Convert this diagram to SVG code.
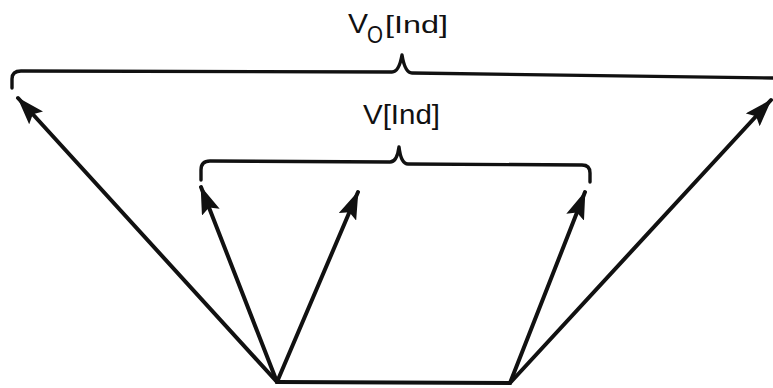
<svg xmlns="http://www.w3.org/2000/svg" width="773" height="388" viewBox="0 0 773 388">
<style>
.t{font-family:"Liberation Sans",Arial,sans-serif;fill:#111}
.brace{fill:none;stroke:#111;stroke-width:3.4;stroke-linecap:round;stroke-linejoin:round}
.edge{fill:none;stroke:#111;stroke-width:4;stroke-linecap:round}
</style>
<defs>
<marker id="ah" viewBox="0 0 28 19" refX="27" refY="9.5" markerWidth="28" markerHeight="19" markerUnits="userSpaceOnUse" orient="auto" preserveAspectRatio="none">
<path d="M0,0 L28,9.5 L0,19 L5,9.5 z" fill="#111"/>
</marker>
</defs>
<rect width="773" height="388" fill="#fff"/>
<g id="outer-brace">
<path class="brace" d="M12,88 L12,79 Q12,71 21,71 L392,72 Q399,72 402,55 Q405,73 412,73 L773,78"/>
<text class="t" x="348" y="33" font-size="27" textLength="20" lengthAdjust="spacingAndGlyphs">V</text>
<text class="t" x="367" y="43" font-size="23" textLength="16" lengthAdjust="spacingAndGlyphs">O</text>
<text class="t" x="385" y="33" font-size="23" textLength="63" lengthAdjust="spacingAndGlyphs">[Ind]</text>
</g>
<g id="inner-brace">
<path class="brace" d="M201,180 L201,170 Q201,161 210,161 L390,162 Q397,162 399,147 Q401,164 408,164 L582,165 Q590,165 590,173 L590,182"/>
<text class="t" x="363" y="124" font-size="27" textLength="77" lengthAdjust="spacingAndGlyphs">V[Ind]</text>
</g>
<g id="connectors">
<line class="edge" x1="277" y1="382" x2="510" y2="383"/>
<line class="edge" x1="277" y1="382" x2="18" y2="98" marker-end="url(#ah)"/>
<line class="edge" x1="277" y1="382" x2="201" y2="187" marker-end="url(#ah)"/>
<line class="edge" x1="277" y1="382" x2="358" y2="192" marker-end="url(#ah)"/>
<line class="edge" x1="510" y1="383" x2="585" y2="192" marker-end="url(#ah)"/>
<line class="edge" x1="510" y1="383" x2="771" y2="100" marker-end="url(#ah)"/>
</g>
</svg>
